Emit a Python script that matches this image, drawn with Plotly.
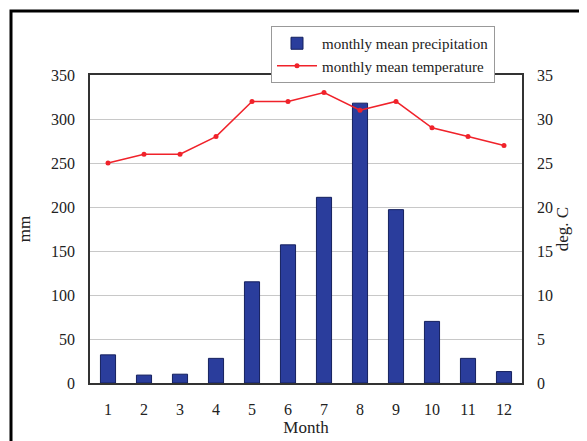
import plotly.graph_objects as go

months = [str(m) for m in range(1, 13)]
precip_mm = [32, 9, 10, 28, 115, 157, 211, 318, 197, 70, 28, 13]
temp_c = [25, 26, 26, 28, 32, 32, 33, 31, 32, 29, 28, 27]
left_ticks = [0, 50, 100, 150, 200, 250, 300, 350]
right_ticks = [0, 5, 10, 15, 20, 25, 30, 35]

FONT = "Liberation Serif"

fig = go.Figure()
fig.add_trace(go.Bar(
    x=months, y=precip_mm, name="monthly mean precipitation",
    marker=dict(color="#2a3d9c", line=dict(color="#15205e", width=1)),
    width=0.42, yaxis="y",
))
fig.add_trace(go.Scatter(
    x=months, y=temp_c, name="monthly mean temperature",
    mode="lines+markers",
    line=dict(color="#f0222a", width=1.5),
    marker=dict(color="#f0222a", size=5),
    yaxis="y2",
))

# the page body adds an 8px offset, so the figure is laid out 8px smaller
OFF = 8
W, H = 587 - OFF, 441 - OFF
ml, mr, mt, mb = 90 - OFF, 65, 75 - OFF, 58
pw, ph = W - ml - mr, H - mt - mb

def px_x(x):
    return (x - OFF - ml) / pw

def px_y(y):
    return 1 - (y - OFF - mt) / ph

fig.update_layout(
    width=W, height=H,
    margin=dict(l=ml, r=mr, t=mt, b=mb, autoexpand=False),
    paper_bgcolor="white", plot_bgcolor="white",
    font=dict(family=FONT, size=16, color="#222222"),
    showlegend=True,
    legend=dict(
        x=px_x(271), y=px_y(26), xanchor="left", yanchor="top",
        bgcolor="white", bordercolor="#999999", borderwidth=1,
        font=dict(family=FONT, size=15, color="#222222"),
        tracegroupgap=0, itemwidth=40,
    ),
    xaxis=dict(
        type="category", showgrid=False, showline=True, linecolor="#333333",
        linewidth=1.5, mirror=True, ticks="", ticklabelstandoff=11,
        title=dict(text="Month", standoff=2, font=dict(size=17)),
        range=[-0.5, 11.5],
    ),
    yaxis=dict(
        range=[0, 350], tickvals=left_ticks, showgrid=True,
        gridcolor="#c8c8c8", gridwidth=1, showline=True, linecolor="#333333",
        linewidth=1.5, zeroline=False, ticks="", ticklabelstandoff=10,
        title=dict(text="mm", standoff=16, font=dict(size=17)),
    ),
    yaxis2=dict(
        range=[0, 35], tickvals=right_ticks, overlaying="y", side="right",
        showgrid=False, showline=True, linecolor="#333333", linewidth=1.5,
        zeroline=False, ticks="", ticklabelstandoff=10,
        title=dict(text="deg. C", standoff=2, font=dict(size=17)),
    ),
    barmode="overlay",
    shapes=[
        dict(type="rect", xref="paper", yref="paper",
             x0=px_x(11), y0=px_y(11), x1=px_x(587 + 30), y1=px_y(441 + 30),
             line=dict(color="black", width=3), fillcolor="rgba(0,0,0,0)",
             layer="above"),
    ],
)

fig.write_html("out.html")
